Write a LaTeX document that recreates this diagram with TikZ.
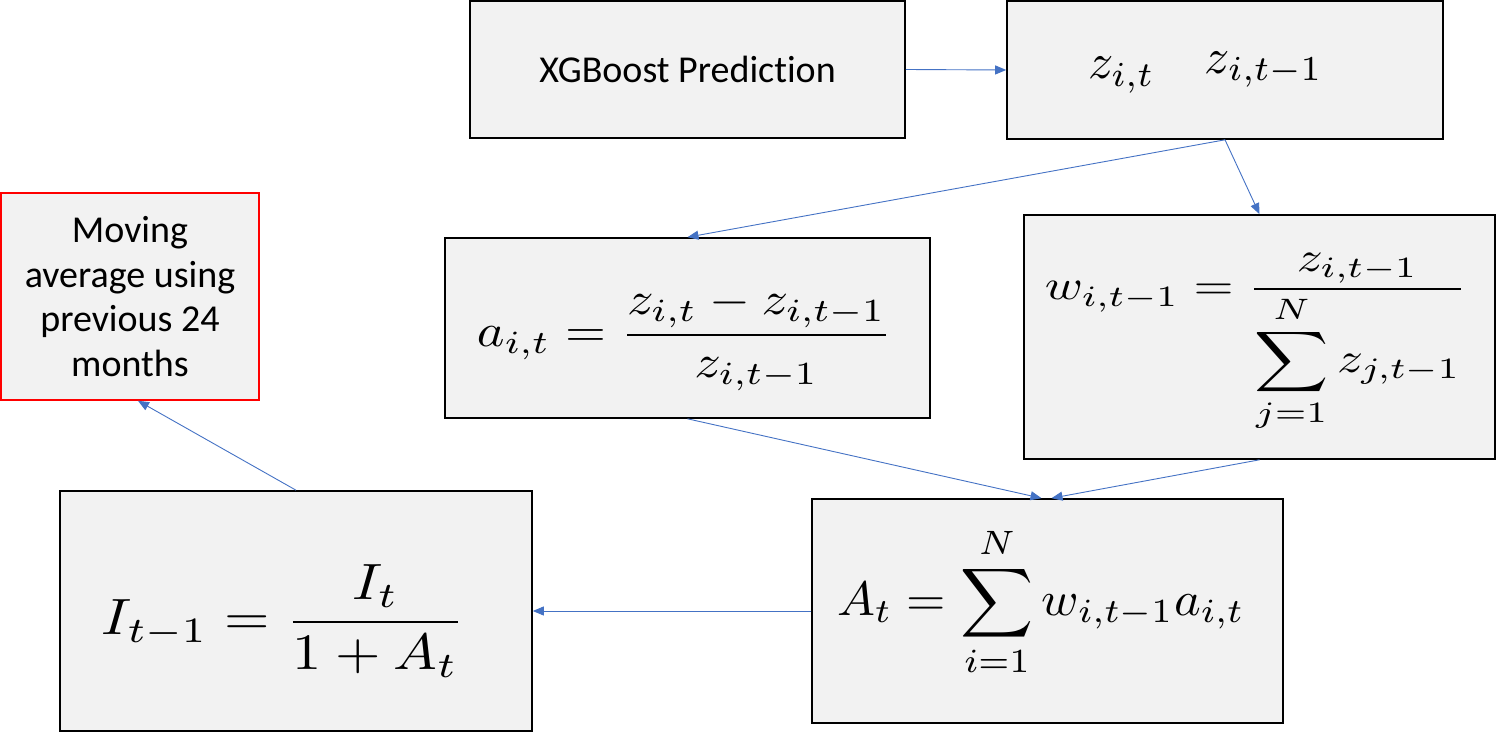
\documentclass[tikz,border=0pt]{standalone}
\usepackage{fontspec}
\newfontfamily\carl[Ligatures={NoCommon}]{Carlito}
\usepackage{amsmath}
\usepackage{graphicx}
\usetikzlibrary{arrows.meta,calc}
\definecolor{boxfill}{HTML}{F2F2F2}
\definecolor{arrowblue}{HTML}{4472C4}
\definecolor{redline}{HTML}{FF0000}
\begin{document}
\begin{tikzpicture}[x=1pt,y=-1pt,
  box/.style={draw=black,line width=1.6pt,fill=boxfill,inner sep=0pt},
  redbox/.style={draw=redline,line width=1.6pt,fill=boxfill,inner sep=0pt},
  lbl/.style={font=\carl\fontsize{38}{44.5}\selectfont,align=center},
  eq/.style={inner sep=0pt},
  conn/.style={draw=arrowblue,line width=0.9pt,-{Triangle[length=11pt,width=9pt]}}]
\useasboundingbox (0,0) rectangle (1497,733);
% boxes
\node[box,lbl,minimum width=435pt,minimum height=137pt] (xg) at (687.5,69.5) {XGBoost Prediction};
\node[box,minimum width=436pt,minimum height=138pt] (z) at (1225,70) {};
\node[redbox,lbl,minimum width=258pt,minimum height=207pt] (red) at (130,296.5) {Moving\\average using\\previous 24\\months};
\node[box,minimum width=485pt,minimum height=180pt] (a) at (687.5,328) {};
\node[box,minimum width=471pt,minimum height=244pt] (w) at (1259.5,337) {};
\node[box,minimum width=471pt,minimum height=224pt] (A) at (1047.5,611) {};
\node[box,minimum width=472pt,minimum height=240pt] (I) at (296,611) {};
% formulas
\node[eq] (zeq) at (1205.5,72.5) {\resizebox{235pt}{!}{$z_{i,t}\quad\raisebox{0.11em}{$z_{i,t-1}$}$}};
\node[eq] (aeq) at (684.5,339.5) {\resizebox*{415pt}{103pt}{$\displaystyle a_{i,t}=\frac{z_{i,t}-z_{i,t-1}}{z_{i,t-1}}$}};
\node[eq] (weq) at (1256,342.5) {\resizebox*{422pt}{179pt}{$\displaystyle w_{i,t-1}=\frac{z_{i,t-1}}{\displaystyle\sum_{j=1}^{N} z_{j,t-1}}$}};
\node[eq] (Aeq) at (1041,602) {\resizebox*{408pt}{150pt}{$\displaystyle A_t=\sum_{i=1}^{N} w_{i,t-1}a_{i,t}$}};
\node[eq] (Ieq) at (283.5,621) {\resizebox*{363pt}{112pt}{$\displaystyle I_{t-1}=\frac{I_t}{1+A_t}$}};
% connectors
\coordinate (Ain1) at ($(A.north)+(-6,0)$);
\coordinate (Ain2) at ($(A.north)+(4,0)$);
\coordinate (redin) at ($(red.south)+(8,0)$);
\draw[conn] (xg.east) -- (z.west);
\draw[conn] (z.south) -- (a.north);
\draw[conn] (z.south) -- (w.north);
\draw[conn] (a.south) -- (Ain1);
\draw[conn] (w.south) -- (Ain2);
\draw[conn] (A.west) -- (I.east);
\draw[conn] (I.north) -- (redin);
\end{tikzpicture}
\end{document}
